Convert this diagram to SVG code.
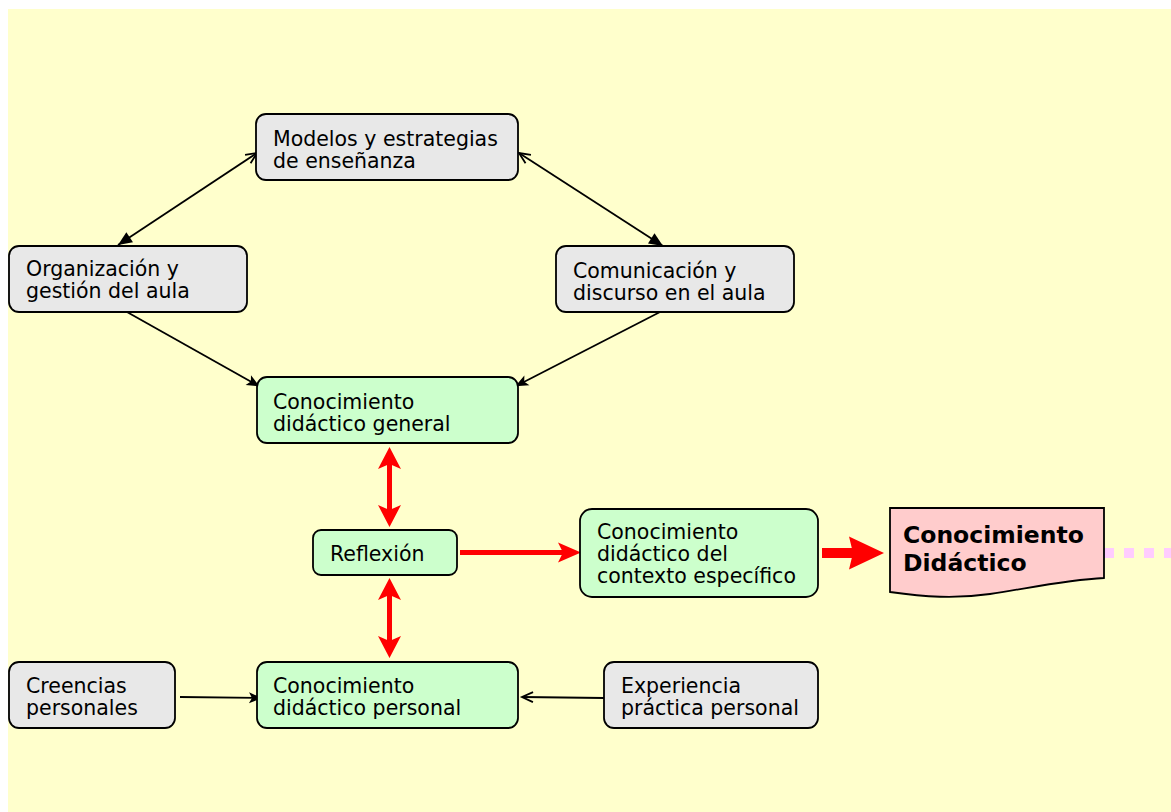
<svg xmlns="http://www.w3.org/2000/svg" width="1171" height="812" viewBox="0 0 1171 812">
<style>
  .box { stroke: #000; stroke-width: 1.8; }
  .grey { fill: #E8E8E8; }
  .green { fill: #CCFFCC; }
  .pink { fill: #FFCCCC; }
  .t { font-family: "DejaVu Sans", Verdana, sans-serif; font-size: 20.5px; fill: #000; }
  .tb { font-family: "DejaVu Sans", Verdana, sans-serif; font-size: 23.5px; font-weight: bold; fill: #000; }
  .blk { stroke: #000; stroke-width: 1.8; fill: none; }
  .red { stroke: #FF0000; fill: none; }
</style>
<defs>
  <marker id="tri" markerUnits="userSpaceOnUse" markerWidth="15" markerHeight="13" refX="14" refY="6" orient="auto-start-reverse" overflow="visible">
    <path d="M0,0 L14,6 L0,12 z" fill="#000"/>
  </marker>
  <marker id="open" markerUnits="userSpaceOnUse" markerWidth="13" markerHeight="11" refX="11" refY="5" orient="auto-start-reverse" overflow="visible">
    <path d="M0,0 L11,5 L0,10" fill="none" stroke="#000" stroke-width="1.8"/>
  </marker>
  <marker id="barb" markerUnits="userSpaceOnUse" markerWidth="14" markerHeight="12" refX="10" refY="5.5" orient="auto-start-reverse" overflow="visible">
    <path d="M0,0 L13,5.5 L0,11 L3,5.5 z" fill="#000"/>
  </marker>
  <marker id="redv" markerUnits="userSpaceOnUse" markerWidth="24" markerHeight="24" refX="6" refY="11.5" orient="auto-start-reverse" overflow="visible">
    <path d="M0,0 L22,11.5 L0,23 L5,11.5 z" fill="#FF0000"/>
  </marker>
  <marker id="redh" markerUnits="userSpaceOnUse" markerWidth="24" markerHeight="22" refX="6" refY="10" orient="auto" overflow="visible">
    <path d="M0,0 L23,10 L0,20 L5,10 z" fill="#FF0000"/>
  </marker>
  <marker id="redbig" markerUnits="userSpaceOnUse" markerWidth="36" markerHeight="34" refX="5" refY="16.5" orient="auto" overflow="visible">
    <path d="M0,0 L35,16.5 L0,33 L4,16.5 z" fill="#FF0000"/>
  </marker>
</defs>

<rect x="8" y="9" width="1163" height="803" fill="#FFFFCC"/>

<g id="connectors">
  <line class="blk" x1="257" y1="153" x2="118" y2="245" marker-start="url(#open)" marker-end="url(#tri)"/>
  <line class="blk" x1="519" y1="153" x2="663" y2="246" marker-start="url(#open)" marker-end="url(#tri)"/>
  <line class="blk" x1="127" y1="312" x2="257" y2="385" marker-end="url(#barb)"/>
  <line class="blk" x1="660" y1="312" x2="518" y2="385" marker-end="url(#barb)"/>
  <line class="blk" x1="180" y1="697" x2="259" y2="698" marker-end="url(#barb)"/>
  <line class="blk" x1="604" y1="698" x2="522" y2="697" marker-end="url(#open)"/>
  <line class="red" stroke-width="5" x1="389.5" y1="463" x2="389.5" y2="511" marker-start="url(#redv)" marker-end="url(#redv)"/>
  <line class="red" stroke-width="5" x1="389.5" y1="594" x2="389.5" y2="642" marker-start="url(#redv)" marker-end="url(#redv)"/>
  <line class="red" stroke-width="5" x1="460" y1="552.5" x2="564" y2="552.5" marker-end="url(#redh)"/>
  <line class="red" stroke-width="10" x1="822" y1="553" x2="854" y2="553" marker-end="url(#redbig)"/>
  <line stroke="#FFCCFF" stroke-width="10" stroke-dasharray="10 10" x1="1104" y1="553" x2="1171" y2="553"/>
</g>

<g id="n-modelos">
  <rect class="box grey" x="256" y="114" width="262" height="66" rx="10"/>
  <text class="t" x="273" y="145.5">Modelos y estrategias</text>
  <text class="t" x="273" y="167.5">de enseñanza</text>
</g>
<g id="n-organizacion">
  <rect class="box grey" x="9" y="246" width="238" height="66" rx="10"/>
  <text class="t" x="26" y="275.5">Organización y</text>
  <text class="t" x="26" y="297.5">gestión del aula</text>
</g>
<g id="n-comunicacion">
  <rect class="box grey" x="556" y="246" width="238" height="66" rx="10"/>
  <text class="t" x="573" y="277.5">Comunicación y</text>
  <text class="t" x="573" y="299.5">discurso en el aula</text>
</g>
<g id="n-general">
  <rect class="box green" x="257" y="377" width="261" height="66" rx="10"/>
  <text class="t" x="273" y="408.5">Conocimiento</text>
  <text class="t" x="273" y="430.5">didáctico general</text>
</g>
<g id="n-reflexion">
  <rect class="box green" x="313" y="530" width="144" height="45" rx="8"/>
  <text class="t" x="330" y="561">Reflexión</text>
</g>
<g id="n-contexto">
  <rect class="box green" x="580" y="509" width="238" height="88" rx="12"/>
  <text class="t" x="597" y="539">Conocimiento</text>
  <text class="t" x="597" y="561">didáctico del</text>
  <text class="t" x="597" y="583">contexto específico</text>
</g>
<g id="n-didactico">
  <path class="box pink" d="M890,508 H1104 V578 C1065,580 1030,588 990,594 C955,599 925,597 890,592 Z"/>
  <text class="tb" x="903" y="543">Conocimiento</text>
  <text class="tb" x="903" y="571">Didáctico</text>
</g>
<g id="n-creencias">
  <rect class="box grey" x="9" y="662" width="166" height="66" rx="10"/>
  <text class="t" x="26" y="692.5">Creencias</text>
  <text class="t" x="26" y="714.5">personales</text>
</g>
<g id="n-personal">
  <rect class="box green" x="257" y="662" width="261" height="66" rx="10"/>
  <text class="t" x="273" y="692.5">Conocimiento</text>
  <text class="t" x="273" y="714.5">didáctico personal</text>
</g>
<g id="n-experiencia">
  <rect class="box grey" x="604" y="662" width="214" height="66" rx="10"/>
  <text class="t" x="621" y="692.5">Experiencia</text>
  <text class="t" x="621" y="714.5">práctica personal</text>
</g>
</svg>
